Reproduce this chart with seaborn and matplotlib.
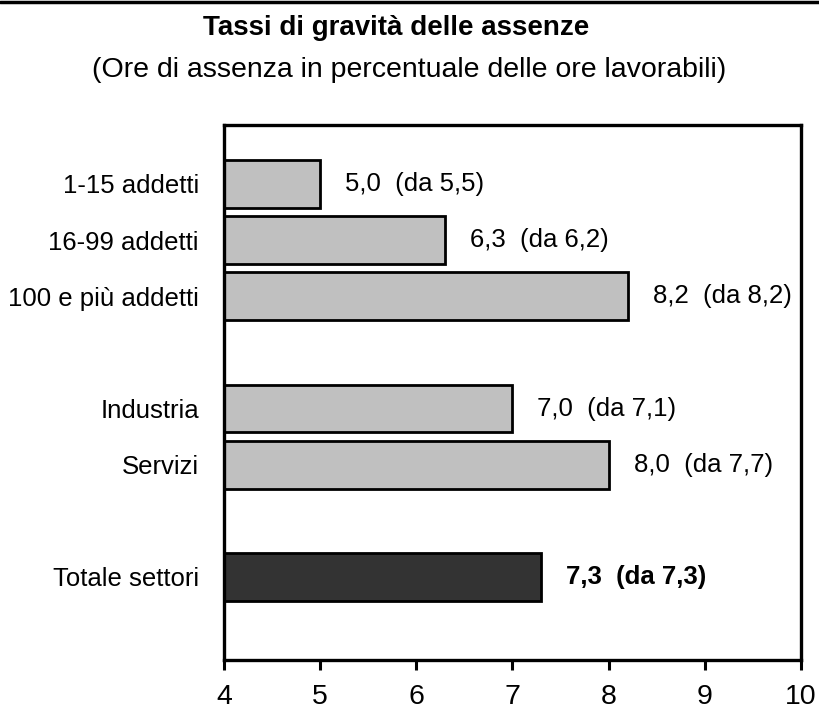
import matplotlib
matplotlib.use("Agg")
import matplotlib.pyplot as plt
import seaborn as sns
import pandas as pd
from matplotlib.lines import Line2D

categories = ["1-15 addetti", "16-99 addetti", "100 e più addetti",
              "Industria", "Servizi", "Totale settori"]
values = [5.0, 6.3, 8.2, 7.0, 8.0, 7.3]
previous = [5.5, 6.2, 8.2, 7.1, 7.7, 7.3]
groups = ["parz", "parz", "parz", "parz", "parz", "tot"]
slots = [0, 1, 2, 4, 5, 7]

sns.set_theme(style="white")
plt.rcParams['font.family'] = ['Liberation Sans', 'DejaVu Sans']
plt.rcParams['text.color'] = 'black'
plt.rcParams['xtick.color'] = 'black'
plt.rcParams['ytick.color'] = 'black'
plt.rcParams['axes.labelcolor'] = 'black'

df = pd.DataFrame({"cat": categories, "val": values, "prev": previous,
                   "grp": groups, "pos": slots})

fig = plt.figure(figsize=(8.19, 7.24), dpi=100)
ax = fig.add_axes([0.2735, 0.0884, 0.978 - 0.2735, 0.8273 - 0.0884])

sns.barplot(data=df, x="val", y="pos", hue="grp", orient="h", native_scale=True,
            palette={"parz": "#C0C0C0", "tot": "#333333"}, width=0.85,
            edgecolor="black", linewidth=2.0, dodge=False, legend=False, ax=ax)

ax.set_xlim(4, 10)
ax.set_ylim(8.48, -1.05)
ax.set_xticks(range(4, 11))
ax.set_xticklabels([str(v) for v in range(4, 11)], fontsize=20.5)
ax.set_yticks(df["pos"])
ax.set_yticklabels(df["cat"], fontsize=18.5)
ax.tick_params(axis="y", length=0, pad=18)
ax.tick_params(axis="x", length=7, width=2.2, direction="out", pad=10, colors="black",
               bottom=True)
ax.set_xlabel("")
ax.set_ylabel("")
for s in ax.spines.values():
    s.set_visible(True)
    s.set_linewidth(2.4)
    s.set_color("black")

for _, r in df.iterrows():
    txt = f"{r.val:.1f}  (da {r.prev:.1f})".replace(".", ",")
    ax.text(r.val + 0.26, r.pos, txt, va="center", ha="left", fontsize=18.5,
            fontweight="bold" if r.grp == "tot" else "normal", color="black")

fig.text(0.484, 1 - 28 / 724, "Tassi di gravità delle assenze", ha="center", va="center",
         fontsize=20, fontweight="bold", color="black")
fig.text(0.5, 1 - 70 / 724, "(Ore di assenza in percentuale delle ore lavorabili)",
         ha="center", va="center", fontsize=20.5, color="black")
fig.add_artist(Line2D([0, 1], [1 - 2 / 724, 1 - 2 / 724], transform=fig.transFigure,
                      color="black", linewidth=2.5))

fig.savefig("out.png", dpi=100)
